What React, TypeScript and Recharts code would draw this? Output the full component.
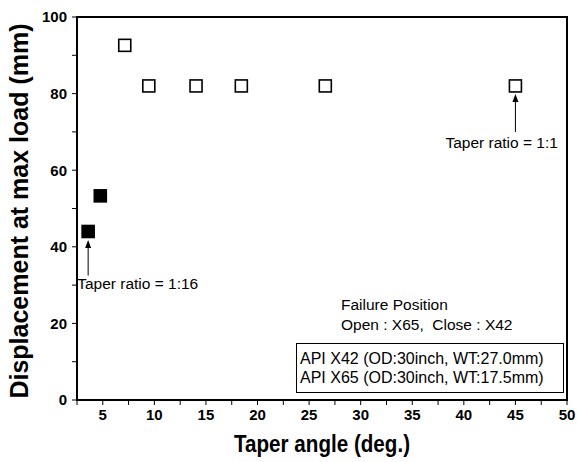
import React from 'react';
import { ScatterChart, Scatter, XAxis, YAxis, ReferenceLine } from 'recharts';

// taper angle (deg.) vs displacement at max load (mm)
const closeAngles = [3.58, 4.76];
const closeDisp = [44, 53.3];
const openAngles = [7.13, 9.46, 14.04, 18.43, 26.57, 45];
const openDisp = [92.6, 82, 82, 82, 82, 82];

const xTicks = [2.5, 5, 7.5, 10, 12.5, 15, 17.5, 20, 22.5, 25, 27.5, 30, 32.5, 35, 37.5, 40, 42.5, 45, 47.5, 50];
const yTicks = [0, 10, 20, 30, 40, 50, 60, 70, 80, 90, 100];
const xDomain = [2.5, 50];
const yDomain = [0, 100];

const legendLines = ['API X42 (OD:30inch, WT:27.0mm)', 'API X65 (OD:30inch, WT:17.5mm)'];
const noteLines = ['Failure Position', 'Open : X65,  Close : X42'];

// arrows: [x, yFrom, yTo]
const arrow16 = [3.58, 32.5, 41.8];
const arrow1 = [45, 70, 79.9];

const closeData = closeAngles.map((a, i) => ({ angle: a, disp: closeDisp[i] }));
const openData = openAngles.map((a, i) => ({ angle: a, disp: openDisp[i] }));

const FONT = '"Liberation Sans", Arial, sans-serif';
const tickStyle = { fill: 'black', fontSize: 15, fontWeight: 'bold', fontFamily: FONT };

const SquareMark = (filled: boolean) => (props: any) => {
  const { cx, cy } = props;
  return (
    <rect
      x={cx - 6}
      y={cy - 6}
      width={12}
      height={12}
      fill={filled ? 'black' : 'white'}
      stroke="black"
      strokeWidth={1.6}
    />
  );
};

const arrowShape = (label: string, dx: number, dy: number) => (props: any) => {
  const { x1, y1, x2, y2 } = props;
  const top = Math.min(y1, y2);
  const bottom = Math.max(y1, y2);
  return (
    <g>
      <line x1={x1} y1={bottom} x2={x2} y2={top + 6} stroke="black" strokeWidth={1} />
      <polygon points={`${x1},${top} ${x1 - 3},${top + 8} ${x1 + 3},${top + 8}`} fill="black" />
      <text x={x1 + dx} y={bottom + dy} fontFamily={FONT} fontSize={15.5} fill="black">
        {label}
      </text>
    </g>
  );
};

const LegendBox = () => (
  <div
    style={{
      position: 'absolute',
      left: 296,
      top: 295,
      width: 268,
      fontFamily: FONT,
      fontSize: 15.5,
      color: '#000',
    }}
  >
    <div style={{ marginLeft: 45, lineHeight: '20px' }}>
      {noteLines.map((t) => (
        <div key={t} style={{ whiteSpace: 'pre' }}>{t}</div>
      ))}
    </div>
    <div style={{ border: '1px solid #000', marginTop: 8, padding: '5px 0 5px 3px', lineHeight: '19px', fontSize: 16 }}>
      {legendLines.map((t) => (
        <div key={t} style={{ whiteSpace: 'nowrap' }}>{t}</div>
      ))}
    </div>
  </div>
);

export default function App() {
  return (
    <div style={{ position: 'absolute', left: 0, top: 0, width: 577, height: 462, background: '#fff' }}>
      <ScatterChart width={577} height={462} margin={{ top: 17, right: 10, bottom: 0, left: 0 }}>
        <XAxis
          dataKey="angle"
          type="number"
          domain={xDomain}
          ticks={xTicks}
          interval={0}
          height={62}
          tickSize={5}
          tickMargin={4}
          stroke="black"
          tick={tickStyle}
          tickFormatter={(v: number) => (v % 5 === 0 ? String(v) : '')}
        />
        <YAxis
          dataKey="disp"
          type="number"
          domain={yDomain}
          ticks={yTicks}
          interval={0}
          width={77}
          tickSize={5}
          tickMargin={5}
          stroke="black"
          tick={tickStyle}
          tickFormatter={(v: number) => (v % 20 === 0 ? String(v) : '')}
        />
        <ReferenceLine x={xDomain[1]} stroke="black" strokeWidth={2} />
        <ReferenceLine y={yDomain[1]} stroke="black" strokeWidth={2} />
        <Scatter data={closeData} shape={SquareMark(true)} isAnimationActive={false} />
        <Scatter data={openData} shape={SquareMark(false)} isAnimationActive={false} />
        <ReferenceLine
          segment={[{ x: arrow16[0], y: arrow16[1] }, { x: arrow16[0], y: arrow16[2] }]}
          shape={arrowShape('Taper ratio = 1:16', -11, 13)}
        />
        <ReferenceLine
          segment={[{ x: arrow1[0], y: arrow1[1] }, { x: arrow1[0], y: arrow1[2] }]}
          shape={arrowShape('Taper ratio = 1:1', -70, 16)}
        />
        {/* plot frame */}
        <rect x={77} y={17} width={490} height={383} fill="none" stroke="black" strokeWidth={2} />
        <text
          x={0}
          y={0}
          transform="translate(28, 211) rotate(-90)"
          textAnchor="middle"
          fontFamily={FONT}
          fontWeight="bold"
          fontSize={25}
          fill="black"
        >
          Displacement at max load (mm)
        </text>
        <text
          x={234}
          y={452}
          fontFamily={FONT}
          fontWeight="bold"
          fontSize={24}
          textLength={176}
          lengthAdjust="spacingAndGlyphs"
          fill="black"
        >
          Taper angle (deg.)
        </text>
      </ScatterChart>
      <LegendBox />
    </div>
  );
}
